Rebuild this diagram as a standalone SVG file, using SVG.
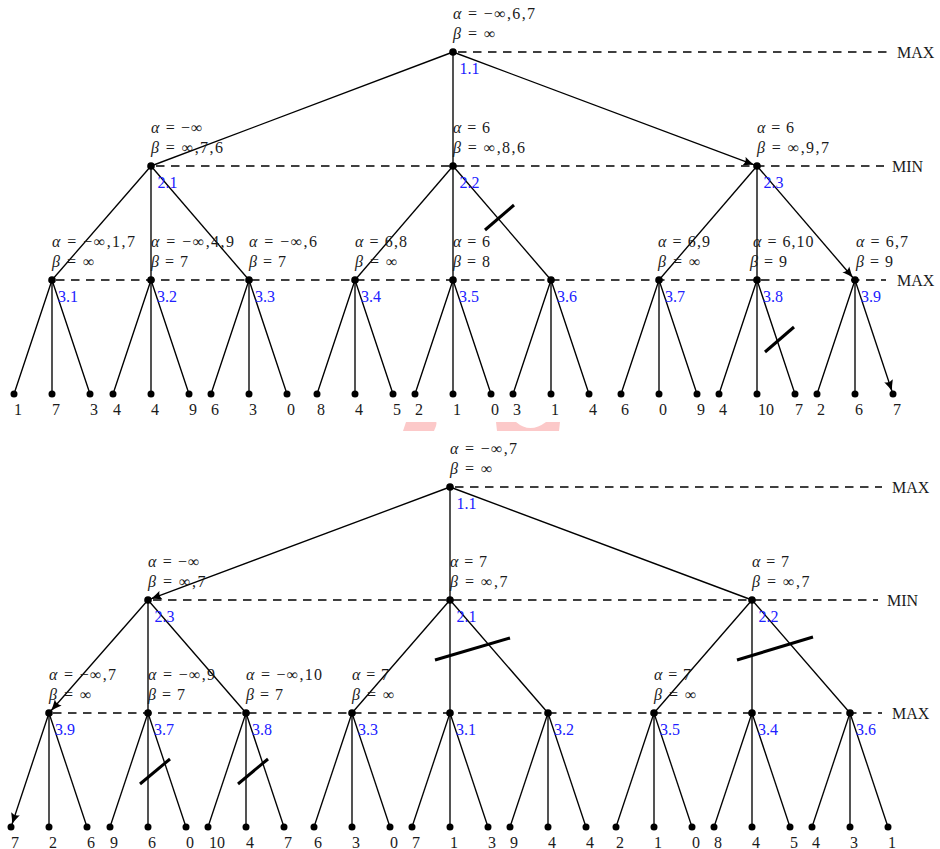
<svg xmlns="http://www.w3.org/2000/svg" width="940" height="849" viewBox="0 0 940 849">
<style>
.e{stroke:#000;stroke-width:1.35;fill:none}
.d{stroke:#000;stroke-width:1.3;stroke-dasharray:8.5 6.5;fill:none}
.c{stroke:#000;stroke-width:3;fill:none}
text{font-family:"Liberation Serif",serif;font-size:16px;fill:#1a1a1a}
.n{fill:#2020ff}
.i{font-style:italic}
.dot{fill:#000}
</style>
<defs>
<marker id="ar" viewBox="0 0 12 10" refX="11" refY="5" markerWidth="12" markerHeight="10" markerUnits="userSpaceOnUse" orient="auto">
<path d="M0,0.5 Q6,3.5 11,5 Q6,6.5 0,9.5 Q3,5 0,0.5 z" fill="#000"/>
</marker>
</defs>
<rect width="940" height="849" fill="#fff"/>
<!-- faint pink marks -->
<path d="M406,422 L436,422 Q437,422 436,426 L434,431 L403,431 z" fill="#fcc9c9"/>
<path d="M496,422 L516,422 Q530,434 546,422 L560,422 L559,431 L497,431 z" fill="#fcc9c9"/>

<g id="connectors">
<!-- top tree -->
<line class="e" x1="453" y1="52" x2="151" y2="166"/>
<line class="e" x1="453" y1="52" x2="453" y2="166"/>
<line class="e" x1="453" y1="52" x2="754.2" y2="164.9" marker-end="url(#ar)"/>
<line class="e" x1="151" y1="166" x2="52" y2="280"/>
<line class="e" x1="151" y1="166" x2="151" y2="280"/>
<line class="e" x1="151" y1="166" x2="249" y2="280"/>
<line class="e" x1="453" y1="166" x2="355" y2="280"/>
<line class="e" x1="453" y1="166" x2="453" y2="280"/>
<line class="e" x1="453" y1="166" x2="551" y2="280"/>
<line class="e" x1="757" y1="166" x2="659" y2="280"/>
<line class="e" x1="757" y1="166" x2="757" y2="280"/>
<line class="e" x1="757" y1="166" x2="853" y2="277.7" marker-end="url(#ar)"/>
<line class="e" x1="52" y1="280" x2="14" y2="394"/><line class="e" x1="52" y1="280" x2="52" y2="394"/><line class="e" x1="52" y1="280" x2="90" y2="394"/>
<line class="e" x1="151" y1="280" x2="113" y2="394"/><line class="e" x1="151" y1="280" x2="151" y2="394"/><line class="e" x1="151" y1="280" x2="189" y2="394"/>
<line class="e" x1="249" y1="280" x2="211" y2="394"/><line class="e" x1="249" y1="280" x2="249" y2="394"/><line class="e" x1="249" y1="280" x2="287" y2="394"/>
<line class="e" x1="355" y1="280" x2="317" y2="394"/><line class="e" x1="355" y1="280" x2="355" y2="394"/><line class="e" x1="355" y1="280" x2="393" y2="394"/>
<line class="e" x1="453" y1="280" x2="415" y2="394"/><line class="e" x1="453" y1="280" x2="453" y2="394"/><line class="e" x1="453" y1="280" x2="491" y2="394"/>
<line class="e" x1="551" y1="280" x2="513" y2="394"/><line class="e" x1="551" y1="280" x2="551" y2="394"/><line class="e" x1="551" y1="280" x2="589" y2="394"/>
<line class="e" x1="659" y1="280" x2="621" y2="394"/><line class="e" x1="659" y1="280" x2="659" y2="394"/><line class="e" x1="659" y1="280" x2="697" y2="394"/>
<line class="e" x1="757" y1="280" x2="719" y2="394"/><line class="e" x1="757" y1="280" x2="757" y2="394"/><line class="e" x1="757" y1="280" x2="795" y2="394"/>
<line class="e" x1="855" y1="280" x2="817" y2="394"/><line class="e" x1="855" y1="280" x2="855" y2="394"/><line class="e" x1="855" y1="280" x2="892" y2="391.2" marker-end="url(#ar)"/>
<line class="d" x1="458" y1="52" x2="888" y2="52"/>
<line class="d" x1="156" y1="166" x2="884" y2="166"/>
<line class="d" x1="56" y1="280" x2="886" y2="280"/>
<line class="c" x1="485" y1="230" x2="514" y2="205"/>
<line class="c" x1="765" y1="352" x2="794" y2="327"/>
<!-- bottom tree -->
<line class="e" x1="450" y1="487" x2="150.8" y2="598.9" marker-end="url(#ar)"/>
<line class="e" x1="450" y1="487" x2="450" y2="600"/>
<line class="e" x1="450" y1="487" x2="752" y2="600"/>
<line class="e" x1="148" y1="600" x2="51" y2="710.7" marker-end="url(#ar)"/>
<line class="e" x1="148" y1="600" x2="148" y2="713"/>
<line class="e" x1="148" y1="600" x2="246" y2="713"/>
<line class="e" x1="450" y1="600" x2="352" y2="713"/>
<line class="e" x1="450" y1="600" x2="450" y2="713"/>
<line class="e" x1="450" y1="600" x2="548" y2="713"/>
<line class="e" x1="752" y1="600" x2="654" y2="713"/>
<line class="e" x1="752" y1="600" x2="752" y2="713"/>
<line class="e" x1="752" y1="600" x2="850" y2="713"/>
<line class="e" x1="49" y1="713" x2="12" y2="824.2" marker-end="url(#ar)"/><line class="e" x1="49" y1="713" x2="49" y2="827"/><line class="e" x1="49" y1="713" x2="87" y2="827"/>
<line class="e" x1="148" y1="713" x2="110" y2="827"/><line class="e" x1="148" y1="713" x2="148" y2="827"/><line class="e" x1="148" y1="713" x2="186" y2="827"/>
<line class="e" x1="246" y1="713" x2="208" y2="827"/><line class="e" x1="246" y1="713" x2="246" y2="827"/><line class="e" x1="246" y1="713" x2="284" y2="827"/>
<line class="e" x1="352" y1="713" x2="314" y2="827"/><line class="e" x1="352" y1="713" x2="352" y2="827"/><line class="e" x1="352" y1="713" x2="390" y2="827"/>
<line class="e" x1="450" y1="713" x2="412" y2="827"/><line class="e" x1="450" y1="713" x2="450" y2="827"/><line class="e" x1="450" y1="713" x2="488" y2="827"/>
<line class="e" x1="548" y1="713" x2="510" y2="827"/><line class="e" x1="548" y1="713" x2="548" y2="827"/><line class="e" x1="548" y1="713" x2="586" y2="827"/>
<line class="e" x1="654" y1="713" x2="616" y2="827"/><line class="e" x1="654" y1="713" x2="654" y2="827"/><line class="e" x1="654" y1="713" x2="692" y2="827"/>
<line class="e" x1="752" y1="713" x2="714" y2="827"/><line class="e" x1="752" y1="713" x2="752" y2="827"/><line class="e" x1="752" y1="713" x2="790" y2="827"/>
<line class="e" x1="850" y1="713" x2="812" y2="827"/><line class="e" x1="850" y1="713" x2="850" y2="827"/><line class="e" x1="850" y1="713" x2="888" y2="827"/>
<line class="d" x1="455" y1="487" x2="882" y2="487"/>
<line class="d" x1="153" y1="600" x2="878" y2="600"/>
<line class="d" x1="53" y1="713" x2="882" y2="713"/>
<line class="c" x1="435" y1="660" x2="510" y2="638"/>
<line class="c" x1="737" y1="660" x2="813" y2="637"/>
<line class="c" x1="140" y1="784" x2="170" y2="759"/>
<line class="c" x1="238" y1="784" x2="268" y2="759"/>
</g>

<g id="level-labels">
<text x="897" y="57.5">MAX</text>
<text x="892" y="171.5">MIN</text>
<text x="897" y="285.5">MAX</text>
<text x="892" y="492.5">MAX</text>
<text x="887" y="605.5">MIN</text>
<text x="892" y="718.5">MAX</text>
</g>

<!-- ===== top tree nodes ===== -->
<g id="t-1.1"><circle class="dot" cx="453" cy="52" r="3.8"/><text class="n" x="459.5" y="73.5">1.1</text>
<text x="453" y="19" textLength="82" lengthAdjust="spacing"><tspan class="i">α</tspan> = −∞,6,7</text>
<text x="453" y="38.5" textLength="42.5" lengthAdjust="spacing"><tspan class="i">β</tspan> = ∞</text></g>
<g id="t-2.1"><circle class="dot" cx="151" cy="166" r="3.8"/><text class="n" x="157.5" y="187.5">2.1</text>
<text x="151" y="133" textLength="51.5" lengthAdjust="spacing"><tspan class="i">α</tspan> = −∞</text>
<text x="151" y="152.5" textLength="72" lengthAdjust="spacing"><tspan class="i">β</tspan> = ∞,7,6</text></g>
<g id="t-2.2"><circle class="dot" cx="453" cy="166" r="3.8"/><text class="n" x="459.5" y="187.5">2.2</text>
<text x="453" y="133" textLength="37" lengthAdjust="spacing"><tspan class="i">α</tspan> = 6</text>
<text x="453" y="152.5" textLength="72" lengthAdjust="spacing"><tspan class="i">β</tspan> = ∞,8,6</text></g>
<g id="t-2.3"><circle class="dot" cx="757" cy="166" r="3.8"/><text class="n" x="763.5" y="187.5">2.3</text>
<text x="757" y="133" textLength="37" lengthAdjust="spacing"><tspan class="i">α</tspan> = 6</text>
<text x="757" y="152.5" textLength="72" lengthAdjust="spacing"><tspan class="i">β</tspan> = ∞,9,7</text></g>
<g id="t-3.1"><circle class="dot" cx="52" cy="280" r="3.8"/><text class="n" x="58" y="301.5">3.1</text>
<text x="52" y="247" textLength="83" lengthAdjust="spacing"><tspan class="i">α</tspan> = −∞,1,7</text>
<text x="52" y="266.5" textLength="42.5" lengthAdjust="spacing"><tspan class="i">β</tspan> = ∞</text></g>
<g id="t-3.2"><circle class="dot" cx="151" cy="280" r="3.8"/><text class="n" x="157" y="301.5">3.2</text>
<text x="151" y="247" textLength="83" lengthAdjust="spacing"><tspan class="i">α</tspan> = −∞,4,9</text>
<text x="151" y="266.5" textLength="37" lengthAdjust="spacing"><tspan class="i">β</tspan> = 7</text></g>
<g id="t-3.3"><circle class="dot" cx="249" cy="280" r="3.8"/><text class="n" x="255" y="301.5">3.3</text>
<text x="249" y="247" textLength="68" lengthAdjust="spacing"><tspan class="i">α</tspan> = −∞,6</text>
<text x="249" y="266.5" textLength="37" lengthAdjust="spacing"><tspan class="i">β</tspan> = 7</text></g>
<g id="t-3.4"><circle class="dot" cx="355" cy="280" r="3.8"/><text class="n" x="361" y="301.5">3.4</text>
<text x="355" y="247" textLength="52" lengthAdjust="spacing"><tspan class="i">α</tspan> = 6,8</text>
<text x="355" y="266.5" textLength="42.5" lengthAdjust="spacing"><tspan class="i">β</tspan> = ∞</text></g>
<g id="t-3.5"><circle class="dot" cx="453" cy="280" r="3.8"/><text class="n" x="459" y="301.5">3.5</text>
<text x="453" y="247" textLength="37" lengthAdjust="spacing"><tspan class="i">α</tspan> = 6</text>
<text x="453" y="266.5" textLength="37" lengthAdjust="spacing"><tspan class="i">β</tspan> = 8</text></g>
<g id="t-3.6"><circle class="dot" cx="551" cy="280" r="3.8"/><text class="n" x="557" y="301.5">3.6</text></g>
<g id="t-3.7"><circle class="dot" cx="659" cy="280" r="3.8"/><text class="n" x="665" y="301.5">3.7</text>
<text x="658" y="247" textLength="52" lengthAdjust="spacing"><tspan class="i">α</tspan> = 6,9</text>
<text x="658" y="266.5" textLength="42.5" lengthAdjust="spacing"><tspan class="i">β</tspan> = ∞</text></g>
<g id="t-3.8"><circle class="dot" cx="757" cy="280" r="3.8"/><text class="n" x="763" y="301.5">3.8</text>
<text x="753" y="247" textLength="60.5" lengthAdjust="spacing"><tspan class="i">α</tspan> = 6,10</text>
<text x="750" y="266.5" textLength="37" lengthAdjust="spacing"><tspan class="i">β</tspan> = 9</text></g>
<g id="t-3.9"><circle class="dot" cx="855" cy="280" r="3.8"/><text class="n" x="861" y="301.5">3.9</text>
<text x="856" y="247" textLength="52" lengthAdjust="spacing"><tspan class="i">α</tspan> = 6,7</text>
<text x="856" y="266.5" textLength="37" lengthAdjust="spacing"><tspan class="i">β</tspan> = 9</text></g>

<g id="t-leaves">
<g id="tl-1"><circle class="dot" cx="14" cy="394" r="3.5"/><text x="14" y="414.5">1</text></g>
<g id="tl-2"><circle class="dot" cx="52" cy="394" r="3.5"/><text x="52" y="414.5">7</text></g>
<g id="tl-3"><circle class="dot" cx="90" cy="394" r="3.5"/><text x="90" y="414.5">3</text></g>
<g id="tl-4"><circle class="dot" cx="113" cy="394" r="3.5"/><text x="113" y="414.5">4</text></g>
<g id="tl-5"><circle class="dot" cx="151" cy="394" r="3.5"/><text x="151" y="414.5">4</text></g>
<g id="tl-6"><circle class="dot" cx="189" cy="394" r="3.5"/><text x="189" y="414.5">9</text></g>
<g id="tl-7"><circle class="dot" cx="211" cy="394" r="3.5"/><text x="211" y="414.5">6</text></g>
<g id="tl-8"><circle class="dot" cx="249" cy="394" r="3.5"/><text x="249" y="414.5">3</text></g>
<g id="tl-9"><circle class="dot" cx="287" cy="394" r="3.5"/><text x="287" y="414.5">0</text></g>
<g id="tl-10"><circle class="dot" cx="317" cy="394" r="3.5"/><text x="317" y="414.5">8</text></g>
<g id="tl-11"><circle class="dot" cx="355" cy="394" r="3.5"/><text x="355" y="414.5">4</text></g>
<g id="tl-12"><circle class="dot" cx="393" cy="394" r="3.5"/><text x="393" y="414.5">5</text></g>
<g id="tl-13"><circle class="dot" cx="415" cy="394" r="3.5"/><text x="415" y="414.5">2</text></g>
<g id="tl-14"><circle class="dot" cx="453" cy="394" r="3.5"/><text x="453" y="414.5">1</text></g>
<g id="tl-15"><circle class="dot" cx="491" cy="394" r="3.5"/><text x="491" y="414.5">0</text></g>
<g id="tl-16"><circle class="dot" cx="513" cy="394" r="3.5"/><text x="513" y="414.5">3</text></g>
<g id="tl-17"><circle class="dot" cx="551" cy="394" r="3.5"/><text x="551" y="414.5">1</text></g>
<g id="tl-18"><circle class="dot" cx="589" cy="394" r="3.5"/><text x="589" y="414.5">4</text></g>
<g id="tl-19"><circle class="dot" cx="621" cy="394" r="3.5"/><text x="621" y="414.5">6</text></g>
<g id="tl-20"><circle class="dot" cx="659" cy="394" r="3.5"/><text x="659" y="414.5">0</text></g>
<g id="tl-21"><circle class="dot" cx="697" cy="394" r="3.5"/><text x="697" y="414.5">9</text></g>
<g id="tl-22"><circle class="dot" cx="719" cy="394" r="3.5"/><text x="719" y="414.5">4</text></g>
<g id="tl-23"><circle class="dot" cx="757" cy="394" r="3.5"/><text x="758" y="414.5">10</text></g>
<g id="tl-24"><circle class="dot" cx="795" cy="394" r="3.5"/><text x="795" y="414.5">7</text></g>
<g id="tl-25"><circle class="dot" cx="817" cy="394" r="3.5"/><text x="817" y="414.5">2</text></g>
<g id="tl-26"><circle class="dot" cx="855" cy="394" r="3.5"/><text x="855" y="414.5">6</text></g>
<g id="tl-27"><circle class="dot" cx="893" cy="394" r="3.5"/><text x="893" y="414.5">7</text></g>
</g>

<!-- ===== bottom tree nodes ===== -->
<g id="b-1.1"><circle class="dot" cx="450" cy="487" r="3.8"/><text class="n" x="456.5" y="508.5">1.1</text>
<text x="450" y="454" textLength="67" lengthAdjust="spacing"><tspan class="i">α</tspan> = −∞,7</text>
<text x="450" y="473.5" textLength="42.5" lengthAdjust="spacing"><tspan class="i">β</tspan> = ∞</text></g>
<g id="b-2.3"><circle class="dot" cx="148" cy="600" r="3.8"/><text class="n" x="154.5" y="621.5">2.3</text>
<text x="148" y="567" textLength="51.5" lengthAdjust="spacing"><tspan class="i">α</tspan> = −∞</text>
<text x="148" y="586.5" textLength="57.5" lengthAdjust="spacing"><tspan class="i">β</tspan> = ∞,7</text></g>
<g id="b-2.1"><circle class="dot" cx="450" cy="600" r="3.8"/><text class="n" x="456.5" y="621.5">2.1</text>
<text x="450" y="567" textLength="37" lengthAdjust="spacing"><tspan class="i">α</tspan> = 7</text>
<text x="450" y="586.5" textLength="57.5" lengthAdjust="spacing"><tspan class="i">β</tspan> = ∞,7</text></g>
<g id="b-2.2"><circle class="dot" cx="752" cy="600" r="3.8"/><text class="n" x="758.5" y="621.5">2.2</text>
<text x="752" y="567" textLength="37" lengthAdjust="spacing"><tspan class="i">α</tspan> = 7</text>
<text x="752" y="586.5" textLength="57.5" lengthAdjust="spacing"><tspan class="i">β</tspan> = ∞,7</text></g>
<g id="b-3.9"><circle class="dot" cx="49" cy="713" r="3.8"/><text class="n" x="55" y="734.5">3.9</text>
<text x="49" y="680" textLength="67" lengthAdjust="spacing"><tspan class="i">α</tspan> = −∞,7</text>
<text x="49" y="699.5" textLength="42.5" lengthAdjust="spacing"><tspan class="i">β</tspan> = ∞</text></g>
<g id="b-3.7"><circle class="dot" cx="148" cy="713" r="3.8"/><text class="n" x="154" y="734.5">3.7</text>
<text x="148" y="680" textLength="67" lengthAdjust="spacing"><tspan class="i">α</tspan> = −∞,9</text>
<text x="148" y="699.5" textLength="37" lengthAdjust="spacing"><tspan class="i">β</tspan> = 7</text></g>
<g id="b-3.8"><circle class="dot" cx="246" cy="713" r="3.8"/><text class="n" x="252" y="734.5">3.8</text>
<text x="246" y="680" textLength="76" lengthAdjust="spacing"><tspan class="i">α</tspan> = −∞,10</text>
<text x="246" y="699.5" textLength="37" lengthAdjust="spacing"><tspan class="i">β</tspan> = 7</text></g>
<g id="b-3.3"><circle class="dot" cx="352" cy="713" r="3.8"/><text class="n" x="358" y="734.5">3.3</text>
<text x="352" y="680" textLength="37" lengthAdjust="spacing"><tspan class="i">α</tspan> = 7</text>
<text x="352" y="699.5" textLength="42.5" lengthAdjust="spacing"><tspan class="i">β</tspan> = ∞</text></g>
<g id="b-3.1"><circle class="dot" cx="450" cy="713" r="3.8"/><text class="n" x="456" y="734.5">3.1</text></g>
<g id="b-3.2"><circle class="dot" cx="548" cy="713" r="3.8"/><text class="n" x="554" y="734.5">3.2</text></g>
<g id="b-3.5"><circle class="dot" cx="654" cy="713" r="3.8"/><text class="n" x="660" y="734.5">3.5</text>
<text x="654" y="680" textLength="37" lengthAdjust="spacing"><tspan class="i">α</tspan> = 7</text>
<text x="654" y="699.5" textLength="42.5" lengthAdjust="spacing"><tspan class="i">β</tspan> = ∞</text></g>
<g id="b-3.4"><circle class="dot" cx="752" cy="713" r="3.8"/><text class="n" x="758" y="734.5">3.4</text></g>
<g id="b-3.6"><circle class="dot" cx="850" cy="713" r="3.8"/><text class="n" x="856" y="734.5">3.6</text></g>

<g id="b-leaves">
<g id="bl-1"><circle class="dot" cx="11" cy="827" r="3.5"/><text x="11" y="847.5">7</text></g>
<g id="bl-2"><circle class="dot" cx="49" cy="827" r="3.5"/><text x="49" y="847.5">2</text></g>
<g id="bl-3"><circle class="dot" cx="87" cy="827" r="3.5"/><text x="87" y="847.5">6</text></g>
<g id="bl-4"><circle class="dot" cx="110" cy="827" r="3.5"/><text x="110" y="847.5">9</text></g>
<g id="bl-5"><circle class="dot" cx="148" cy="827" r="3.5"/><text x="148" y="847.5">6</text></g>
<g id="bl-6"><circle class="dot" cx="186" cy="827" r="3.5"/><text x="186" y="847.5">0</text></g>
<g id="bl-7"><circle class="dot" cx="208" cy="827" r="3.5"/><text x="209" y="847.5">10</text></g>
<g id="bl-8"><circle class="dot" cx="246" cy="827" r="3.5"/><text x="246" y="847.5">4</text></g>
<g id="bl-9"><circle class="dot" cx="284" cy="827" r="3.5"/><text x="284" y="847.5">7</text></g>
<g id="bl-10"><circle class="dot" cx="314" cy="827" r="3.5"/><text x="314" y="847.5">6</text></g>
<g id="bl-11"><circle class="dot" cx="352" cy="827" r="3.5"/><text x="352" y="847.5">3</text></g>
<g id="bl-12"><circle class="dot" cx="390" cy="827" r="3.5"/><text x="390" y="847.5">0</text></g>
<g id="bl-13"><circle class="dot" cx="412" cy="827" r="3.5"/><text x="412" y="847.5">7</text></g>
<g id="bl-14"><circle class="dot" cx="450" cy="827" r="3.5"/><text x="450" y="847.5">1</text></g>
<g id="bl-15"><circle class="dot" cx="488" cy="827" r="3.5"/><text x="488" y="847.5">3</text></g>
<g id="bl-16"><circle class="dot" cx="510" cy="827" r="3.5"/><text x="510" y="847.5">9</text></g>
<g id="bl-17"><circle class="dot" cx="548" cy="827" r="3.5"/><text x="548" y="847.5">4</text></g>
<g id="bl-18"><circle class="dot" cx="586" cy="827" r="3.5"/><text x="586" y="847.5">4</text></g>
<g id="bl-19"><circle class="dot" cx="616" cy="827" r="3.5"/><text x="616" y="847.5">2</text></g>
<g id="bl-20"><circle class="dot" cx="654" cy="827" r="3.5"/><text x="654" y="847.5">1</text></g>
<g id="bl-21"><circle class="dot" cx="692" cy="827" r="3.5"/><text x="692" y="847.5">0</text></g>
<g id="bl-22"><circle class="dot" cx="714" cy="827" r="3.5"/><text x="714" y="847.5">8</text></g>
<g id="bl-23"><circle class="dot" cx="752" cy="827" r="3.5"/><text x="752" y="847.5">4</text></g>
<g id="bl-24"><circle class="dot" cx="790" cy="827" r="3.5"/><text x="790" y="847.5">5</text></g>
<g id="bl-25"><circle class="dot" cx="812" cy="827" r="3.5"/><text x="812" y="847.5">4</text></g>
<g id="bl-26"><circle class="dot" cx="850" cy="827" r="3.5"/><text x="850" y="847.5">3</text></g>
<g id="bl-27"><circle class="dot" cx="888" cy="827" r="3.5"/><text x="888" y="847.5">1</text></g>
</g>
</svg>
